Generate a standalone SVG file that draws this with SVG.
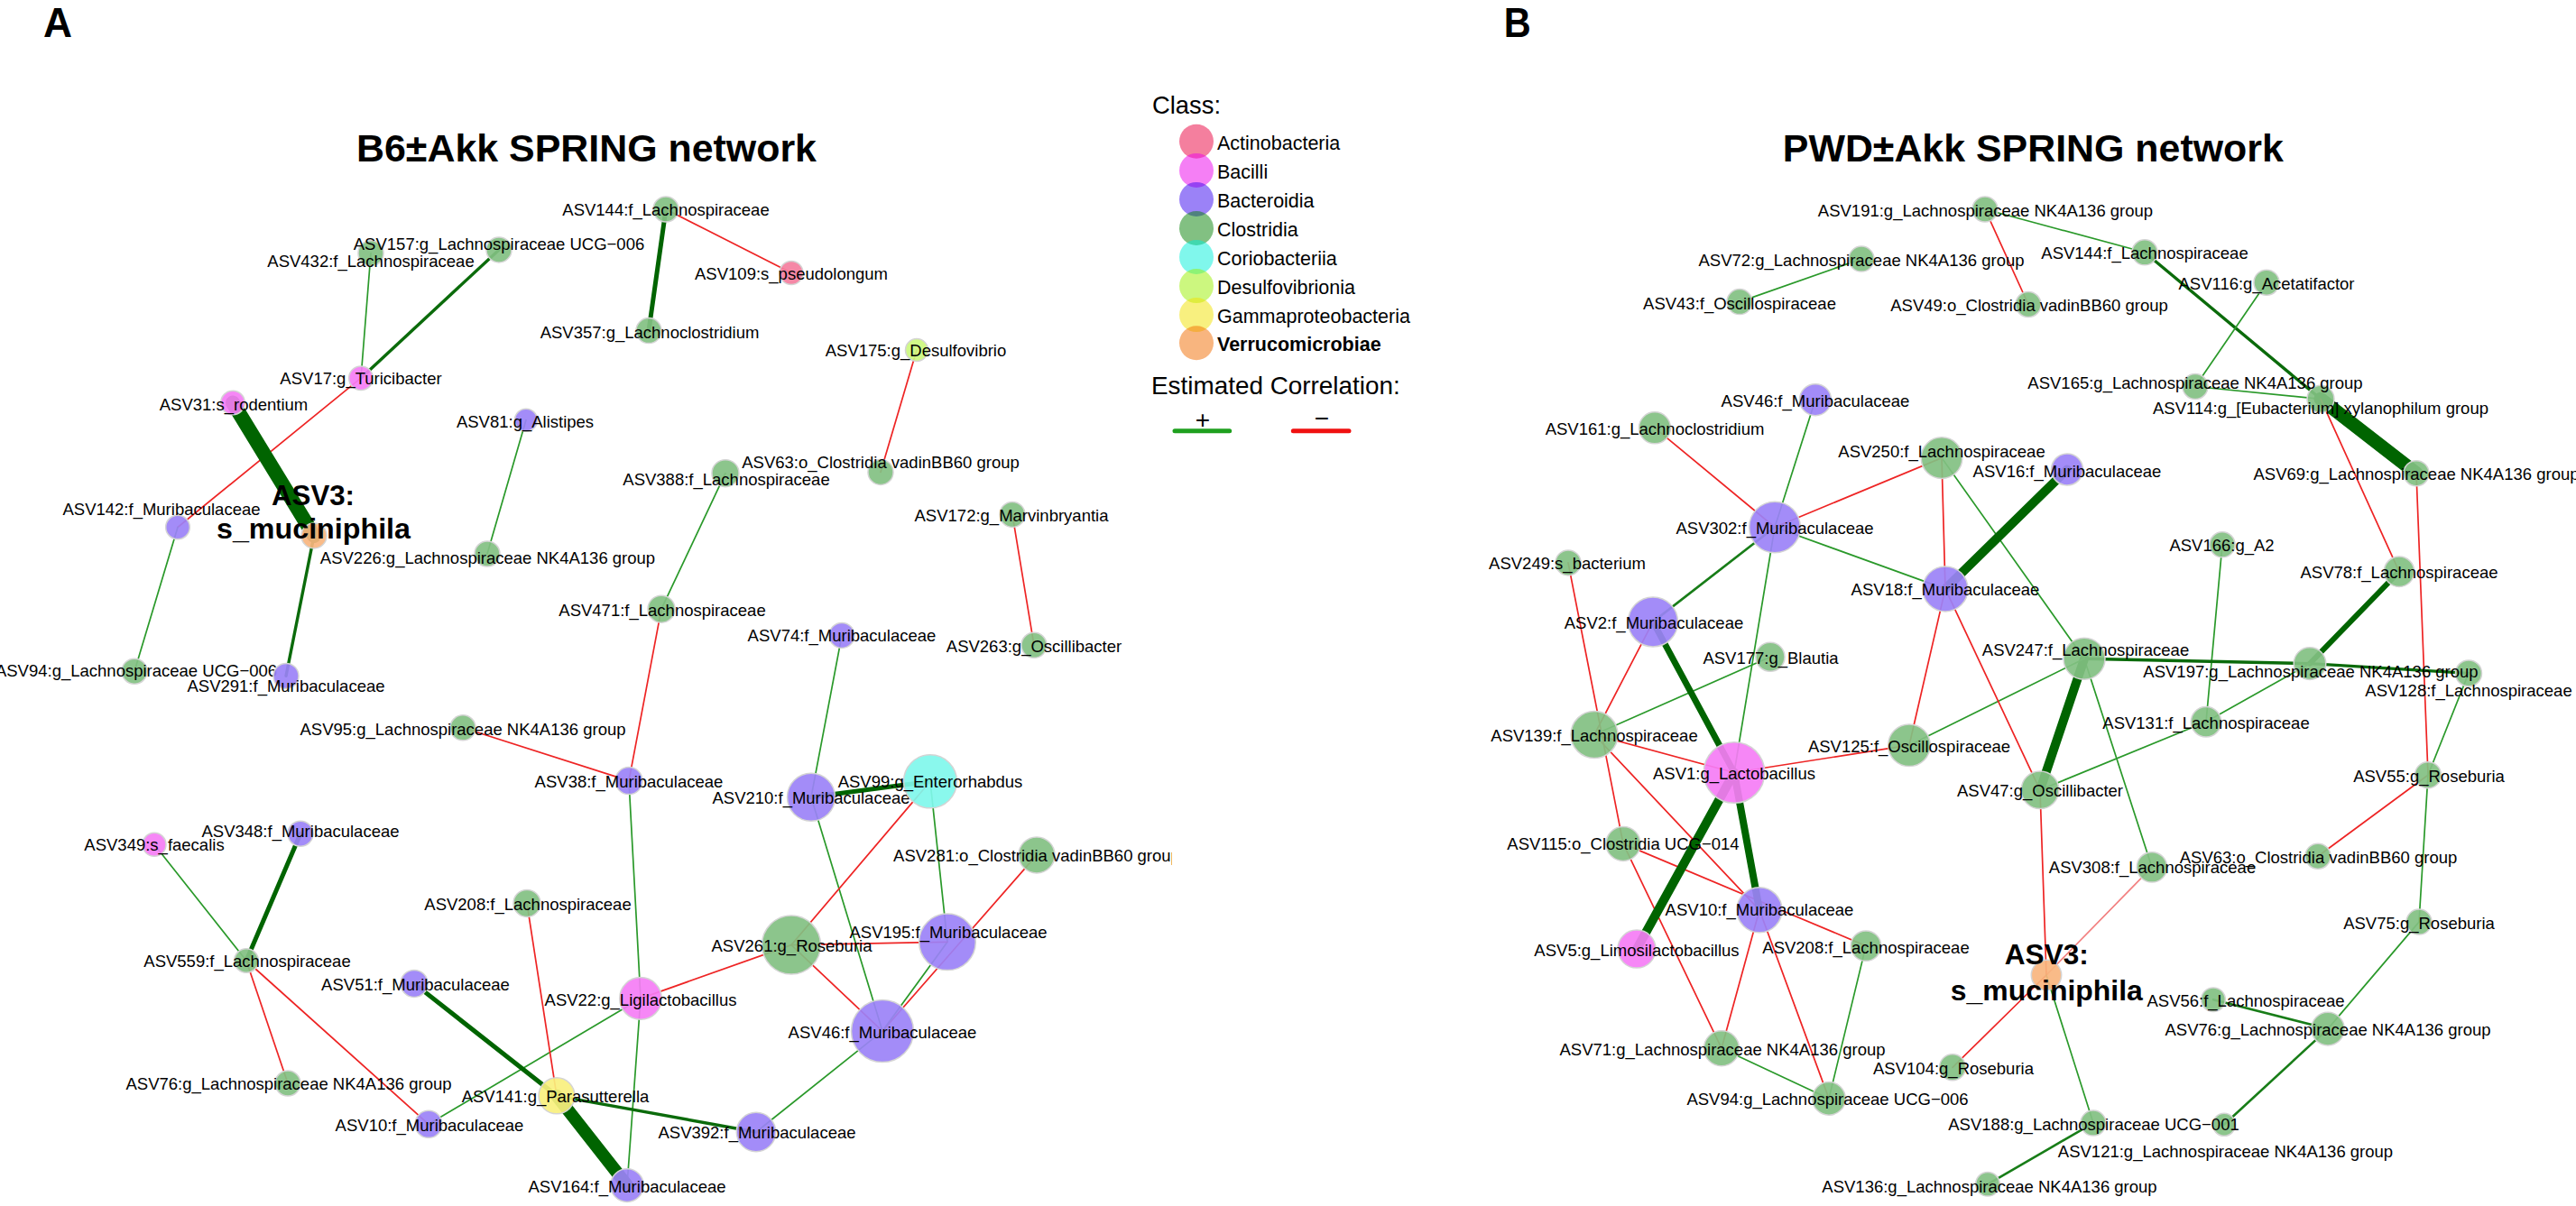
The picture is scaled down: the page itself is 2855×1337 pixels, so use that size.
<svg xmlns="http://www.w3.org/2000/svg" width="2855" height="1337" viewBox="0 0 2855 1337">
<style>
text{font-family:"Liberation Sans",Arial,Helvetica,sans-serif;fill:#000}
.l{font-size:18.5px;text-anchor:middle}
.b3{font-size:32px;font-weight:bold;text-anchor:middle}
.lt{font-size:21.5px}
.n{stroke:#d4d4d4;stroke-width:1.5;fill-opacity:0.92}
.ac{fill:#F47E9E}.ba{fill:#F57DF5}.bd{fill:#9B82F7}.cl{fill:#82C082}.co{fill:#80F7EC}.de{fill:#CCF77E}.ga{fill:#F8F07E}.ve{fill:#F8B57E}
.lg{fill-opacity:0.5}
.lac{fill:#E9003D}.lba{fill:#EB00EB}.lbd{fill:#3705EF}.lcl{fill:#058105}.lco{fill:#01EFD9}.lde{fill:#99EF00}.lga{fill:#F1E100}.lve{fill:#F16B00}
line{stroke-linecap:round;fill:none}
.g1{stroke:#2A992A;stroke-width:1.7}
.g2{stroke:#187D18;stroke-width:2.6}
.g3{stroke:#0B6B0B;stroke-width:3.4}
.gt{stroke:#006400}
.r{stroke:#EE2424;stroke-width:1.7}
.rl{stroke:#F28080;stroke-width:1.7}
</style>
<defs>
<clipPath id="clipA"><rect x="0" y="0" width="1299" height="1337"/></clipPath>
</defs>
<rect x="0" y="0" width="2855" height="1337" fill="#fff"/>

<g id="panel-labels">
<text x="48" y="40.6" font-size="46" font-weight="bold" textLength="32" lengthAdjust="spacingAndGlyphs">A</text>
<text x="1666.7" y="40.6" font-size="46" font-weight="bold" textLength="30" lengthAdjust="spacingAndGlyphs">B</text>
<text x="650" y="178.6" font-size="43" font-weight="bold" text-anchor="middle" textLength="510" lengthAdjust="spacingAndGlyphs">B6±Akk SPRING network</text>
<text x="2253.3" y="178.6" font-size="43" font-weight="bold" text-anchor="middle" textLength="555" lengthAdjust="spacingAndGlyphs">PWD±Akk SPRING network</text>
</g>

<g id="legend">
<text x="1277" y="126.1" font-size="28" textLength="76" lengthAdjust="spacingAndGlyphs">Class:</text>
<circle class="lg lac" cx="1326" cy="156.8" r="19"/>
<circle class="lg lba" cx="1326" cy="188.9" r="19"/>
<circle class="lg lbd" cx="1326" cy="220.9" r="19"/>
<circle class="lg lcl" cx="1326" cy="253" r="19"/>
<circle class="lg lco" cx="1326" cy="285" r="19"/>
<circle class="lg lde" cx="1326" cy="317.1" r="19"/>
<circle class="lg lga" cx="1326" cy="349.1" r="19"/>
<circle class="lg lve" cx="1326" cy="380.3" r="19"/>
<text class="lt" x="1349" y="165.8">Actinobacteria</text>
<text class="lt" x="1349" y="197.9">Bacilli</text>
<text class="lt" x="1349" y="229.9">Bacteroidia</text>
<text class="lt" x="1349" y="262">Clostridia</text>
<text class="lt" x="1349" y="294">Coriobacteriia</text>
<text class="lt" x="1349" y="326.1">Desulfovibrionia</text>
<text class="lt" x="1349" y="358.1">Gammaproteobacteria</text>
<text class="lt" x="1349" y="389.3" font-weight="bold">Verrucomicrobiae</text>
<text x="1276" y="436.7" font-size="28" textLength="275.7" lengthAdjust="spacingAndGlyphs">Estimated Correlation:</text>
<text x="1333" y="474.5" font-size="28" text-anchor="middle">+</text>
<line x1="1302" y1="477.7" x2="1362.7" y2="477.7" stroke="#1FA01F" stroke-width="5"/>
<text x="1465" y="473" font-size="28" text-anchor="middle">−</text>
<line x1="1433.3" y1="477.7" x2="1495" y2="477.7" stroke="#F01010" stroke-width="5"/>
</g>

<g id="edges-A">
<line class="gt" stroke-width="5" x1="738" y1="232" x2="719" y2="366.6"/>
<line class="r" x1="738" y1="232" x2="877" y2="302.5"/>
<line class="g3" stroke-width="3" x1="553" y1="276.9" x2="400" y2="419.2"/>
<line class="g1" x1="411" y1="280.7" x2="400" y2="419.2"/>
<line class="r" x1="400" y1="419.2" x2="197" y2="584.5"/>
<line class="gt" stroke-width="16" x1="258" y1="446.5" x2="348" y2="593.9"/>
<line class="g3" x1="348" y1="593.9" x2="317" y2="749.4"/>
<line class="g1" x1="197" y1="584.5" x2="149" y2="744.2"/>
<line class="g1" x1="583" y1="465.7" x2="540" y2="614"/>
<line class="g1" x1="804" y1="524.7" x2="733" y2="675.2"/>
<line class="r" x1="1016" y1="388" x2="976" y2="523.4"/>
<line class="r" x1="1122" y1="570.4" x2="1146" y2="715.3"/>
<line class="r" x1="733" y1="675.2" x2="697" y2="865.6"/>
<line class="r" x1="513" y1="806.8" x2="697" y2="865.6"/>
<line class="g1" x1="697" y1="865.6" x2="710" y2="1106.9"/>
<line class="g1" x1="933" y1="704.4" x2="899" y2="883.7"/>
<line class="gt" stroke-width="5" x1="899" y1="883.7" x2="1031" y2="866.3"/>
<line class="g1" x1="899" y1="883.7" x2="978" y2="1143.1"/>
<line class="r" x1="1031" y1="866.3" x2="877" y2="1047.6"/>
<line class="g1" x1="1031" y1="866.3" x2="1050" y2="1044.3"/>
<line class="r" x1="1149" y1="947.9" x2="978" y2="1143.1"/>
<line class="g1" x1="1050" y1="1044.3" x2="978" y2="1143.1"/>
<line class="r" x1="877" y1="1047.6" x2="1050" y2="1044.3"/>
<line class="r" x1="877" y1="1047.6" x2="710" y2="1106.9"/>
<line class="r" x1="877" y1="1047.6" x2="978" y2="1143.1"/>
<line class="g1" x1="710" y1="1106.9" x2="475" y2="1246.3"/>
<line class="g1" x1="710" y1="1106.9" x2="695" y2="1314.1"/>
<line class="r" x1="584" y1="1001.4" x2="617" y2="1214.8"/>
<line class="gt" stroke-width="5" x1="459" y1="1090.4" x2="617" y2="1214.8"/>
<line class="gt" stroke-width="14" x1="617" y1="1214.8" x2="695" y2="1314.1"/>
<line class="g3" stroke-width="3" x1="617" y1="1214.8" x2="838" y2="1255"/>
<line class="g1" x1="838" y1="1255" x2="978" y2="1143.1"/>
<line class="gt" stroke-width="5" x1="333" y1="924.2" x2="273" y2="1065"/>
<line class="g1" x1="171" y1="936.3" x2="273" y2="1065"/>
<line class="r" x1="273" y1="1065" x2="319" y2="1201"/>
<line class="r" x1="273" y1="1065" x2="475" y2="1246.3"/>
</g>

<g id="edges-B">
<line class="g1" x1="2200" y1="232" x2="2377" y2="279.8"/>
<line class="r" x1="2200" y1="232" x2="2248" y2="337.5"/>
<line class="g1" x1="2063" y1="287.1" x2="1928" y2="334.6"/>
<line class="g3" x1="2377" y1="279.8" x2="2572" y2="442.3"/>
<line class="g1" x1="2512" y1="313.2" x2="2433" y2="428.5"/>
<line class="g1" x1="2433" y1="428.5" x2="2572" y2="442.3"/>
<line class="gt" stroke-width="15" x1="2572" y1="442.3" x2="2678" y2="524.7"/>
<line class="r" x1="2572" y1="442.3" x2="2659" y2="633.7"/>
<line class="r" x1="2678" y1="524.7" x2="2691" y2="859.3"/>
<line class="gt" stroke-width="6" x1="2659" y1="633.7" x2="2560" y2="735.6"/>
<line class="g1" x1="2463" y1="603.8" x2="2445" y2="800.3"/>
<line class="g3" stroke-width="3" x1="2560" y1="735.6" x2="2310" y2="730.3"/>
<line class="g3" stroke-width="3" x1="2560" y1="735.6" x2="2736" y2="746.4"/>
<line class="g1" x1="2560" y1="735.6" x2="2445" y2="800.3"/>
<line class="g1" x1="2736" y1="746.4" x2="2691" y2="859.3"/>
<line class="g1" x1="2445" y1="800.3" x2="2261" y2="875.8"/>
<line class="g1" x1="2310" y1="730.3" x2="2385" y2="961.4"/>
<line class="r" x1="2691" y1="859.3" x2="2569" y2="949.2"/>
<line class="g1" x1="2691" y1="859.3" x2="2681" y2="1022.1"/>
<line class="g1" x1="2681" y1="1022.1" x2="2580" y2="1140.6"/>
<line class="g2" x1="2453" y1="1108.2" x2="2580" y2="1140.6"/>
<line class="g2" x1="2580" y1="1140.6" x2="2465" y2="1246.8"/>
<line class="rl" x1="2385" y1="961.4" x2="2268" y2="1081"/>
<line class="r" x1="2261" y1="875.8" x2="2268" y2="1081"/>
<line class="r" x1="2268" y1="1081" x2="2164" y2="1183.3"/>
<line class="g1" x1="2268" y1="1081" x2="2320" y2="1245.1"/>
<line class="g2" x1="2320" y1="1245.1" x2="2203" y2="1312.8"/>
<line class="gt" stroke-width="10" x1="2310" y1="730.3" x2="2261" y2="875.8"/>
<line class="g1" x1="2310" y1="730.3" x2="2116" y2="826.2"/>
<line class="g1" x1="2152" y1="507.6" x2="2310" y2="730.3"/>
<line class="gt" stroke-width="10" x1="2291" y1="520.5" x2="2156" y2="652.9"/>
<line class="r" x1="2152" y1="507.6" x2="1967" y2="584.5"/>
<line class="r" x1="2152" y1="507.6" x2="2156" y2="652.9"/>
<line class="g1" x1="1967" y1="584.5" x2="2156" y2="652.9"/>
<line class="g1" x1="1967" y1="584.5" x2="2012" y2="443.2"/>
<line class="r" x1="1967" y1="584.5" x2="1834" y2="474.3"/>
<line class="g2" x1="1967" y1="584.5" x2="1832" y2="689.4"/>
<line class="g1" x1="1967" y1="584.5" x2="1922" y2="856.5"/>
<line class="g1" x1="1962" y1="728.3" x2="1767" y2="814.5"/>
<line class="gt" stroke-width="7" x1="1832" y1="689.4" x2="1922" y2="856.5"/>
<line class="r" x1="1832" y1="689.4" x2="1767" y2="814.5"/>
<line class="r" x1="1738" y1="623.9" x2="1799" y2="935.4"/>
<line class="r" x1="1767" y1="814.5" x2="1922" y2="856.5"/>
<line class="r" x1="1767" y1="814.5" x2="1950" y2="1008.8"/>
<line class="r" x1="1799" y1="935.4" x2="2068" y2="1048.6"/>
<line class="r" x1="1799" y1="935.4" x2="1908" y2="1162.2"/>
<line class="gt" stroke-width="10" x1="1922" y1="856.5" x2="1814" y2="1052.1"/>
<line class="gt" stroke-width="8" x1="1922" y1="856.5" x2="1950" y2="1008.8"/>
<line class="r" x1="1922" y1="856.5" x2="2116" y2="826.2"/>
<line class="r" x1="1950" y1="1008.8" x2="1908" y2="1162.2"/>
<line class="r" x1="1950" y1="1008.8" x2="2027" y2="1217.9"/>
<line class="g1" x1="1908" y1="1162.2" x2="2027" y2="1217.9"/>
<line class="g1" x1="2068" y1="1048.6" x2="2027" y2="1217.9"/>
<line class="r" x1="2156" y1="652.9" x2="2116" y2="826.2"/>
<line class="r" x1="2156" y1="652.9" x2="2261" y2="875.8"/>
</g>

<g id="nodes-A">
<g id="A_ASV144"><circle class="n cl" cx="738" cy="232" r="14"/><text class="l" x="738" y="238.6">ASV144:f_Lachnospiraceae</text></g>
<g id="A_ASV109"><circle class="n ac" cx="877" cy="302.5" r="13"/><text class="l" x="877" y="310.4">ASV109:s_pseudolongum</text></g>
<g id="A_ASV357"><circle class="n cl" cx="719" cy="366.6" r="14"/><text class="l" x="720" y="374.5">ASV357:g_Lachnoclostridium</text></g>
<g id="A_ASV432"><circle class="n cl" cx="411" cy="280.7" r="14"/><text class="l" x="411" y="295.9">ASV432:f_Lachnospiraceae</text></g>
<g id="A_ASV157"><circle class="n cl" cx="553" cy="276.9" r="14"/><text class="l" x="553" y="276.7">ASV157:g_Lachnospiraceae UCG−006</text></g>
<g id="A_ASV17"><circle class="n ba" cx="400" cy="419.2" r="13.3"/><text class="l" x="400" y="425.8">ASV17:g_Turicibacter</text></g>
<g id="A_ASV31"><circle class="n ba" cx="258" cy="446.5" r="13.3"/><text class="l" x="259" y="455.3">ASV31:s_rodentium</text></g>
<g id="A_ASV142"><circle class="n bd" cx="197" cy="584.5" r="13.3"/><text class="l" x="179" y="570.6">ASV142:f_Muribaculaceae</text></g>
<g id="A_ASV3"><circle class="n ve" cx="348" cy="593.9" r="14"/><text class="b3" x="347" y="559.8" textLength="92" lengthAdjust="spacingAndGlyphs">ASV3:</text><text class="b3" x="347.5" y="597.4" textLength="215" lengthAdjust="spacingAndGlyphs">s_muciniphila</text></g>
<g id="A_ASV226"><circle class="n cl" cx="540" cy="614" r="14"/><text class="l" x="540.5" y="624.9">ASV226:g_Lachnospiraceae NK4A136 group</text></g>
<g id="A_ASV81"><circle class="n bd" cx="583" cy="465.7" r="12.5"/><text class="l" x="582" y="473.6">ASV81:g_Alistipes</text></g>
<g id="A_ASV388"><circle class="n cl" cx="804" cy="524.7" r="15"/><text class="l" x="805" y="537.7">ASV388:f_Lachnospiraceae</text></g>
<g id="A_ASV63"><circle class="n cl" cx="976" cy="523.4" r="14"/><text class="l" x="976" y="518.5">ASV63:o_Clostridia vadinBB60 group</text></g>
<g id="A_ASV175"><circle class="n de" cx="1016" cy="388" r="12.5"/><text class="l" x="1015" y="395.4">ASV175:g_Desulfovibrio</text></g>
<g id="A_ASV172"><circle class="n cl" cx="1122" cy="570.4" r="14"/><text class="l" x="1121" y="578.3">ASV172:g_Marvinbryantia</text></g>
<g id="A_ASV263"><circle class="n cl" cx="1146" cy="715.3" r="14"/><text class="l" x="1146" y="722.7">ASV263:g_Oscillibacter</text></g>
<g id="A_ASV471"><circle class="n cl" cx="733" cy="675.2" r="15"/><text class="l" x="734" y="682.5">ASV471:f_Lachnospiraceae</text></g>
<g id="A_ASV74"><circle class="n bd" cx="933" cy="704.4" r="14"/><text class="l" x="933" y="711">ASV74:f_Muribaculaceae</text></g>
<g id="A_ASV95"><circle class="n cl" cx="513" cy="806.8" r="14"/><text class="l" x="513" y="814.7">ASV95:g_Lachnospiraceae NK4A136 group</text></g>
<g id="A_ASV38"><circle class="n bd" cx="697" cy="865.6" r="15"/><text class="l" x="697" y="873">ASV38:f_Muribaculaceae</text></g>
<g id="A_ASV210"><circle class="n bd" cx="899" cy="883.7" r="26.5"/><text class="l" x="899" y="891.1">ASV210:f_Muribaculaceae</text></g>
<g id="A_ASV99"><circle class="n co" cx="1031" cy="866.3" r="29.5"/><text class="l" x="1031" y="872.9">ASV99:g_Enterorhabdus</text></g>
<g id="A_ASV281"><circle class="n cl" cx="1149" cy="947.9" r="20"/><text class="l" x="1149" y="954.5" clip-path="url(#clipA)">ASV281:o_Clostridia vadinBB60 group</text></g>
<g id="A_ASV261"><circle class="n cl" cx="877" cy="1047.6" r="32.5"/><text class="l" x="877.5" y="1055">ASV261:g_Roseburia</text></g>
<g id="A_ASV195"><circle class="n bd" cx="1050" cy="1044.3" r="31.3"/><text class="l" x="1051" y="1040">ASV195:f_Muribaculaceae</text></g>
<g id="A_ASV46"><circle class="n bd" cx="978" cy="1143.1" r="34.5"/><text class="l" x="978" y="1151.4">ASV46:f_Muribaculaceae</text></g>
<g id="A_ASV208"><circle class="n cl" cx="584" cy="1001.4" r="15"/><text class="l" x="585" y="1008.6">ASV208:f_Lachnospiraceae</text></g>
<g id="A_ASV22"><circle class="n ba" cx="710" cy="1106.9" r="23.3"/><text class="l" x="710" y="1114.8">ASV22:g_Ligilactobacillus</text></g>
<g id="A_ASV141"><circle class="n ga" cx="617" cy="1214.8" r="20"/><text class="l" x="615.5" y="1222.3">ASV141:g_Parasutterella</text></g>
<g id="A_ASV392"><circle class="n bd" cx="838" cy="1255" r="21.7"/><text class="l" x="839" y="1262.4">ASV392:f_Muribaculaceae</text></g>
<g id="A_ASV164"><circle class="n bd" cx="695" cy="1314.1" r="18.3"/><text class="l" x="695" y="1321.6">ASV164:f_Muribaculaceae</text></g>
<g id="A_ASV10"><circle class="n bd" cx="475" cy="1246.3" r="15"/><text class="l" x="476" y="1253.7">ASV10:f_Muribaculaceae</text></g>
<g id="A_ASV51"><circle class="n bd" cx="459" cy="1090.4" r="15"/><text class="l" x="460.5" y="1098.3">ASV51:f_Muribaculaceae</text></g>
<g id="A_ASV76"><circle class="n cl" cx="319" cy="1201" r="14"/><text class="l" x="320" y="1208.4">ASV76:g_Lachnospiraceae NK4A136 group</text></g>
<g id="A_ASV559"><circle class="n cl" cx="273" cy="1065" r="13.3"/><text class="l" x="274" y="1072.3">ASV559:f_Lachnospiraceae</text></g>
<g id="A_ASV349"><circle class="n ba" cx="171" cy="936.3" r="13"/><text class="l" x="171" y="942.9">ASV349:s_faecalis</text></g>
<g id="A_ASV348"><circle class="n bd" cx="333" cy="924.2" r="14"/><text class="l" x="333" y="927.8">ASV348:f_Muribaculaceae</text></g>
<g id="A_ASV94"><circle class="n cl" cx="149" cy="744.2" r="14"/><text class="l" x="151" y="749.5">ASV94:g_Lachnospiraceae UCG−006</text></g>
<g id="A_ASV291"><circle class="n bd" cx="317" cy="749.4" r="14"/><text class="l" x="317" y="767.2">ASV291:f_Muribaculaceae</text></g>
</g>

<g id="nodes-B">
<g id="B_ASV191"><circle class="n cl" cx="2200" cy="232" r="14"/><text class="l" x="2200.5" y="239.5">ASV191:g_Lachnospiraceae NK4A136 group</text></g>
<g id="B_ASV72"><circle class="n cl" cx="2063" cy="287.1" r="14"/><text class="l" x="2063" y="295">ASV72:g_Lachnospiraceae NK4A136 group</text></g>
<g id="B_ASV43"><circle class="n cl" cx="1928" cy="334.6" r="14"/><text class="l" x="1928" y="342.8">ASV43:f_Oscillospiraceae</text></g>
<g id="B_ASV49"><circle class="n cl" cx="2248" cy="337.5" r="14"/><text class="l" x="2249" y="345">ASV49:o_Clostridia vadinBB60 group</text></g>
<g id="B_ASV144"><circle class="n cl" cx="2377" cy="279.8" r="14"/><text class="l" x="2377" y="287.3">ASV144:f_Lachnospiraceae</text></g>
<g id="B_ASV116"><circle class="n cl" cx="2512" cy="313.2" r="14"/><text class="l" x="2512" y="320.7">ASV116:g_Acetatifactor</text></g>
<g id="B_ASV114"><circle class="n cl" cx="2572" cy="442.3" r="15"/><text class="l" x="2572" y="458.7">ASV114:g_[Eubacterium] xylanophilum group</text></g>
<g id="B_ASV165"><circle class="n cl" cx="2433" cy="428.5" r="14"/><text class="l" x="2433" y="430.9">ASV165:g_Lachnospiraceae NK4A136 group</text></g>
<g id="B_ASV69"><circle class="n cl" cx="2678" cy="524.7" r="14"/><text class="l" x="2678" y="532.2">ASV69:g_Lachnospiraceae NK4A136 group</text></g>
<g id="B_ASV46"><circle class="n bd" cx="2012" cy="443.2" r="17.5"/><text class="l" x="2012" y="451">ASV46:f_Muribaculaceae</text></g>
<g id="B_ASV161"><circle class="n cl" cx="1834" cy="474.3" r="17.5"/><text class="l" x="1834" y="481.8">ASV161:g_Lachnoclostridium</text></g>
<g id="B_ASV250"><circle class="n cl" cx="2152" cy="507.6" r="22.8"/><text class="l" x="2152" y="507.4">ASV250:f_Lachnospiraceae</text></g>
<g id="B_ASV16"><circle class="n bd" cx="2291" cy="520.5" r="17.5"/><text class="l" x="2291" y="528.7">ASV16:f_Muribaculaceae</text></g>
<g id="B_ASV302"><circle class="n bd" cx="1967" cy="584.5" r="28.3"/><text class="l" x="1967" y="592">ASV302:f_Muribaculaceae</text></g>
<g id="B_ASV18"><circle class="n bd" cx="2156" cy="652.9" r="25"/><text class="l" x="2156" y="660.4">ASV18:f_Muribaculaceae</text></g>
<g id="B_ASV249"><circle class="n cl" cx="1738" cy="623.9" r="14"/><text class="l" x="1737" y="631.3">ASV249:s_bacterium</text></g>
<g id="B_ASV166"><circle class="n cl" cx="2463" cy="603.8" r="14"/><text class="l" x="2462.5" y="611.3">ASV166:g_A2</text></g>
<g id="B_ASV78"><circle class="n cl" cx="2659" cy="633.7" r="16.7"/><text class="l" x="2659" y="641.1">ASV78:f_Lachnospiraceae</text></g>
<g id="B_ASV2"><circle class="n bd" cx="1832" cy="689.4" r="27.5"/><text class="l" x="1833" y="696.8">ASV2:f_Muribaculaceae</text></g>
<g id="B_ASV139"><circle class="n cl" cx="1767" cy="814.5" r="26"/><text class="l" x="1767" y="822">ASV139:f_Lachnospiraceae</text></g>
<g id="B_ASV115"><circle class="n cl" cx="1799" cy="935.4" r="19"/><text class="l" x="1799" y="942">ASV115:o_Clostridia UCG−014</text></g>
<g id="B_ASV5"><circle class="n ba" cx="1814" cy="1052.1" r="21"/><text class="l" x="1814" y="1059.5">ASV5:g_Limosilactobacillus</text></g>
<g id="B_ASV71"><circle class="n cl" cx="1908" cy="1162.2" r="19.5"/><text class="l" x="1909" y="1169.6">ASV71:g_Lachnospiraceae NK4A136 group</text></g>
<g id="B_ASV94"><circle class="n cl" cx="2027" cy="1217.9" r="18.3"/><text class="l" x="2025.5" y="1224.9">ASV94:g_Lachnospiraceae UCG−006</text></g>
<g id="B_ASV1"><circle class="n ba" cx="1922" cy="856.5" r="33.8"/><text class="l" x="1922" y="863.9">ASV1:g_Lactobacillus</text></g>
<g id="B_ASV177"><circle class="n cl" cx="1962" cy="728.3" r="16"/><text class="l" x="1962.5" y="735.6">ASV177:g_Blautia</text></g>
<g id="B_ASV125"><circle class="n cl" cx="2116" cy="826.2" r="23.3"/><text class="l" x="2116" y="833.7">ASV125:f_Oscillospiraceae</text></g>
<g id="B_ASV10"><circle class="n bd" cx="1950" cy="1008.8" r="25"/><text class="l" x="1950" y="1015.4">ASV10:f_Muribaculaceae</text></g>
<g id="B_ASV208"><circle class="n cl" cx="2068" cy="1048.6" r="16.7"/><text class="l" x="2068" y="1056.5">ASV208:f_Lachnospiraceae</text></g>
<g id="B_ASV247"><circle class="n cl" cx="2310" cy="730.3" r="23"/><text class="l" x="2311.5" y="727.1">ASV247:f_Lachnospiraceae</text></g>
<g id="B_ASV47"><circle class="n cl" cx="2261" cy="875.8" r="20.8"/><text class="l" x="2261" y="883.3">ASV47:g_Oscillibacter</text></g>
<g id="B_ASV308"><circle class="n cl" cx="2385" cy="961.4" r="16.7"/><text class="l" x="2385.5" y="967.5">ASV308:f_Lachnospiraceae</text></g>
<g id="B_ASV3"><circle class="n ve" cx="2268" cy="1081" r="16.7"/><text class="b3" x="2268.3" y="1069.3" textLength="93" lengthAdjust="spacingAndGlyphs">ASV3:</text><text class="b3" x="2268.3" y="1109.1" textLength="213" lengthAdjust="spacingAndGlyphs">s_muciniphila</text></g>
<g id="B_ASV104"><circle class="n cl" cx="2164" cy="1183.3" r="14.5"/><text class="l" x="2165" y="1191.2">ASV104:g_Roseburia</text></g>
<g id="B_ASV121"><circle class="n cl" cx="2465" cy="1246.8" r="12.5"/><text class="l" x="2466.5" y="1283.2">ASV121:g_Lachnospiraceae NK4A136 group</text></g>
<g id="B_ASV188"><circle class="n cl" cx="2320" cy="1245.1" r="14"/><text class="l" x="2320.5" y="1253">ASV188:g_Lachnospiraceae UCG−001</text></g>
<g id="B_ASV136"><circle class="n cl" cx="2203" cy="1312.8" r="13.3"/><text class="l" x="2205" y="1321.6">ASV136:g_Lachnospiraceae NK4A136 group</text></g>
<g id="B_ASV128"><circle class="n cl" cx="2736" cy="746.4" r="14.5"/><text class="l" x="2736" y="772.4">ASV128:f_Lachnospiraceae</text></g>
<g id="B_ASV197"><circle class="n cl" cx="2560" cy="735.6" r="17.8"/><text class="l" x="2561" y="751.3">ASV197:g_Lachnospiraceae NK4A136 group</text></g>
<g id="B_ASV131"><circle class="n cl" cx="2445" cy="800.3" r="16.7"/><text class="l" x="2445" y="807.8">ASV131:f_Lachnospiraceae</text></g>
<g id="B_ASV55"><circle class="n cl" cx="2691" cy="859.3" r="14.5"/><text class="l" x="2692" y="866.5">ASV55:g_Roseburia</text></g>
<g id="B_ASV63"><circle class="n cl" cx="2569" cy="949.2" r="14"/><text class="l" x="2569.5" y="956.7">ASV63:o_Clostridia vadinBB60 group</text></g>
<g id="B_ASV75"><circle class="n cl" cx="2681" cy="1022.1" r="14"/><text class="l" x="2681" y="1029.6">ASV75:g_Roseburia</text></g>
<g id="B_ASV56"><circle class="n cl" cx="2453" cy="1108.2" r="13.3"/><text class="l" x="2489" y="1115.7">ASV56:f_Lachnospiraceae</text></g>
<g id="B_ASV76"><circle class="n cl" cx="2580" cy="1140.6" r="18.3"/><text class="l" x="2580" y="1148.1">ASV76:g_Lachnospiraceae NK4A136 group</text></g>
</g>
</svg>
